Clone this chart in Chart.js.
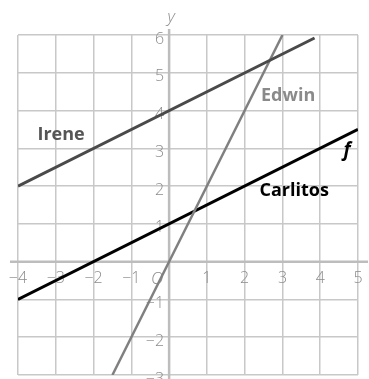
<!DOCTYPE html>
<html>
<head>
<meta charset="utf-8">
<script src="https://cdn.jsdelivr.net/npm/chart.js@4"></script>
<style>
  html, body { margin: 0; padding: 0; background: #fff; }
  #graph { display: block; }
</style>
</head>
<body>
<canvas id="graph" width="369" height="379"></canvas>
<script>
// line endpoints
var ireneX = [-4, 3.85];
var ireneY = [2, 5.92];
var edwinX = [-1.5, 3];
var edwinY = [-3, 6];
var carlitosX = [-4, 5];
var carlitosY = [-1, 3.5];

var xTicks = [-4, -3, -2, -1, 1, 2, 3, 4, 5];
var yTicks = [-3, -2, -1, 1, 2, 3, 4, 5, 6];

function pts(xs, ys) {
    var out = [];
    for (var i = 0; i < xs.length; i++) out.push({ x: xs[i], y: ys[i] });
    return out;
}

function label(n) {
    return n < 0 ? '\u2212' + Math.abs(n) : String(n);
}

var FONT = '"Open Sans", "Noto Sans", sans-serif';

var axesPlugin = {
    id: 'axesPlugin',
    beforeDatasetsDraw: function (chart) {
        var ctx = chart.ctx;
        var xs = chart.scales.x, ys = chart.scales.y;
        var x0 = xs.getPixelForValue(0), y0 = ys.getPixelForValue(0);
        ctx.save();
        ctx.strokeStyle = '#bdbdbd';
        ctx.lineWidth = 2.5;
        ctx.beginPath();
        ctx.moveTo(10, y0); ctx.lineTo(368, y0);
        ctx.moveTo(x0, 29); ctx.lineTo(x0, 379);
        ctx.stroke();

        ctx.fillStyle = '#8c8c8c';
        ctx.font = '300 16px ' + FONT;
        ctx.textAlign = 'center';
        ctx.textBaseline = 'middle';
        xTicks.forEach(function (v) {
            ctx.fillText(label(v), xs.getPixelForValue(v), y0 + 17);
        });
        ctx.textAlign = 'right';
        yTicks.forEach(function (v) {
            ctx.fillText(label(v), x0 - 5, ys.getPixelForValue(v) + 4);
        });
        ctx.font = 'italic 300 17px ' + FONT;
        ctx.textAlign = 'center';
        ctx.fillText('O', x0 - 12, y0 + 17);
        ctx.fillText('y', x0 + 2, 17);
        ctx.restore();
    },
    afterDatasetsDraw: function (chart) {
        var ctx = chart.ctx;
        var xs = chart.scales.x, ys = chart.scales.y;
        var names = [
            { t: 'Irene', x: -2.86, y: 3.36, c: '#555555', f: 'bold 18px ' },
            { t: 'Edwin', x: 3.15, y: 4.39, c: '#8a8a8a', f: 'bold 18px ' },
            { t: 'Carlitos', x: 3.31, y: 1.88, c: '#000000', f: 'bold 18px ' },
            { t: 'f', x: 4.71, y: 2.94, c: '#000000', f: 'italic bold 19px ' }
        ];
        ctx.save();
        ctx.textAlign = 'center';
        ctx.textBaseline = 'middle';
        names.forEach(function (n) {
            ctx.font = n.f + FONT;
            ctx.fillStyle = n.c;
            ctx.fillText(n.t, xs.getPixelForValue(n.x), ys.getPixelForValue(n.y));
        });
        ctx.restore();
    }
};

var canvas = document.getElementById('graph');
new Chart(canvas.getContext('2d'), {
    type: 'scatter',
    data: {
        datasets: [{
            label: 'Irene',
            data: pts(ireneX, ireneY),
            borderColor: '#4a4a4a',
            borderWidth: 3
        }, {
            label: 'Edwin',
            data: pts(edwinX, edwinY),
            borderColor: '#808080',
            borderWidth: 2.5
        }, {
            label: 'Carlitos',
            data: pts(carlitosX, carlitosY),
            borderColor: '#000000',
            borderWidth: 3
        }]
    },
    options: {
        responsive: false,
        animation: false,
        showLine: true,
        elements: { point: { radius: 0, hoverRadius: 0 }, line: { borderCapStyle: 'butt' } },
        layout: { padding: { left: 18, top: 35, right: 11, bottom: 4 } },
        plugins: { legend: { display: false }, tooltip: { enabled: false } },
        scales: {
            x: {
                type: 'linear', min: -4, max: 5,
                ticks: { display: false, stepSize: 1 },
                grid: { color: '#c8c8c8', lineWidth: 1.5, drawTicks: false },
                border: { display: false },
                afterFit: function (s) { s.height = 0; }
            },
            y: {
                type: 'linear', min: -3, max: 6,
                ticks: { display: false, stepSize: 1 },
                grid: { color: '#c8c8c8', lineWidth: 1.5, drawTicks: false },
                border: { display: false },
                afterFit: function (s) { s.width = 0; }
            }
        }
    },
    plugins: [axesPlugin]
});
</script>
</body>
</html>
